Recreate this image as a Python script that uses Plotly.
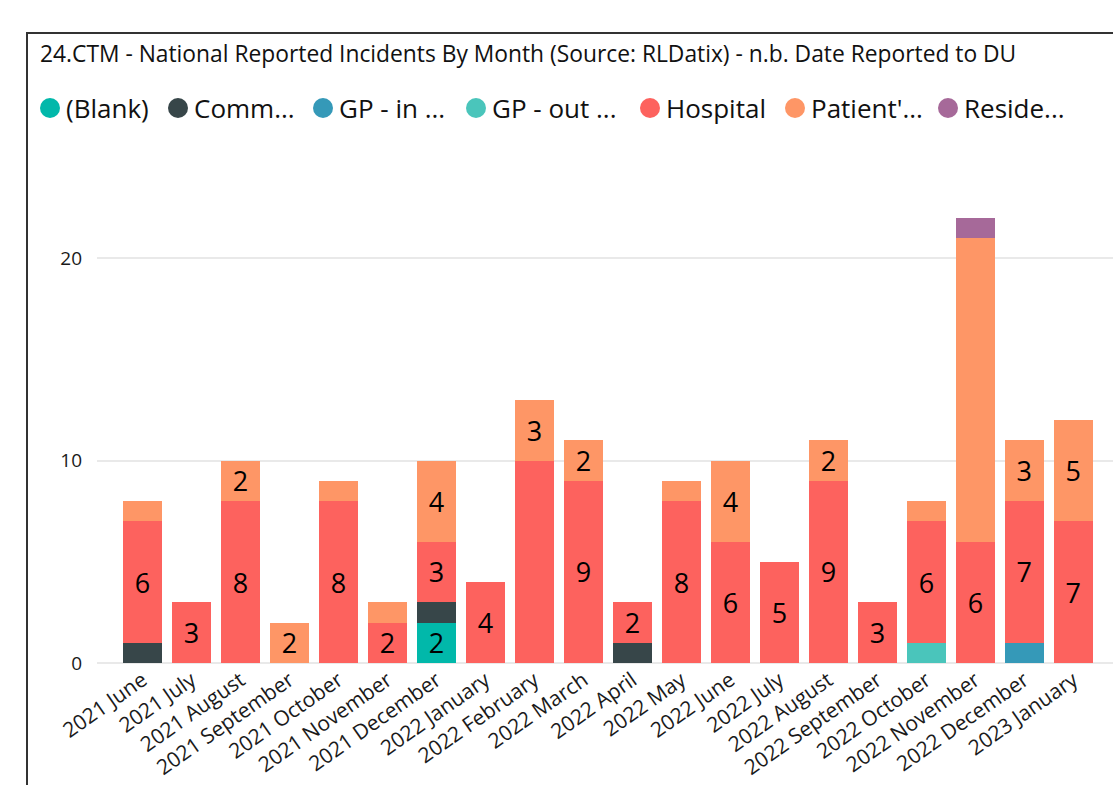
import plotly.graph_objects as go

# months on the x axis
months = [
    "2021 June", "2021 July", "2021 August", "2021 September", "2021 October",
    "2021 November", "2021 December", "2022 January", "2022 February", "2022 March",
    "2022 April", "2022 May", "2022 June", "2022 July", "2022 August",
    "2022 September", "2022 October", "2022 November", "2022 December", "2023 January",
]

# incident counts per location, stacked bottom -> top
blank = [0, 0, 0, 0, 0, 0, 2, 0, 0, 0, 0, 0, 0, 0, 0, 0, 0, 0, 0, 0]
community = [1, 0, 0, 0, 0, 0, 1, 0, 0, 0, 1, 0, 0, 0, 0, 0, 0, 0, 0, 0]
gp_in = [0, 0, 0, 0, 0, 0, 0, 0, 0, 0, 0, 0, 0, 0, 0, 0, 0, 0, 1, 0]
gp_out = [0, 0, 0, 0, 0, 0, 0, 0, 0, 0, 0, 0, 0, 0, 0, 0, 1, 0, 0, 0]
hospital = [6, 3, 8, 0, 8, 2, 3, 4, 10, 9, 2, 8, 6, 5, 9, 3, 6, 6, 7, 7]
patient = [1, 0, 2, 2, 1, 1, 4, 0, 3, 2, 0, 1, 4, 0, 2, 0, 1, 15, 3, 5]
residential = [0, 0, 0, 0, 0, 0, 0, 0, 0, 0, 0, 0, 0, 0, 0, 0, 0, 1, 0, 0]

series_names = ["(Blank)", "Comm...", "GP - in ...", "GP - out ...", "Hospital", "Patient'...", "Reside..."]
series_vals = [blank, community, gp_in, gp_out, hospital, patient, residential]
colors = ["#01B8AA", "#374649", "#3599B8", "#4AC5BB", "#FD625E", "#FE9666", "#A66999"]

# the report leaves these segments without a label
hidden_labels = {("Hospital", "2022 February"), ("Patient'...", "2022 November")}

FONT = "Segoe UI, Open Sans, sans-serif"

# plot area in pixels (figure is 1113 x 785)
L, T, B = 97, 137, 663

fig = go.Figure()
for name, vals, color in zip(series_names, series_vals, colors):
    labels = []
    for m, v in zip(months, vals):
        if v >= 2 and (name, m) not in hidden_labels:
            labels.append(str(v))
        else:
            labels.append("")
    fig.add_trace(go.Bar(
        x=months, y=vals, name=name, marker=dict(color=color, line=dict(width=0)),
        text=labels, textposition="inside", insidetextanchor="middle", textangle=0,
        textfont=dict(size=27, color="black", family=FONT),
        showlegend=False, hoverinfo="x+y+name",
    ))

annotations = [dict(
    text="24.CTM - National Reported Incidents By Month (Source: RLDatix) - n.b. Date Reported to DU",
    xref="paper", yref="paper", x=0, y=1, xshift=38 - L, yshift=T - 53,
    xanchor="left", yanchor="middle", showarrow=False,
    font=dict(size=22.8, color="#111", family=FONT),
)]
shapes = []

# hand-drawn legend with round markers, as in the report
legend_px = [50, 178, 323, 476, 650, 795, 948]
legend_y = 108
for name, color, px in zip(series_names, colors, legend_px):
    shapes.append(dict(
        type="circle", xref="paper", yref="paper",
        xsizemode="pixel", ysizemode="pixel", xanchor=0, yanchor=1,
        x0=px - L - 10, x1=px - L + 10, y0=T - legend_y - 10, y1=T - legend_y + 10,
        fillcolor=color, line=dict(width=0),
    ))
    annotations.append(dict(
        text=name, xref="paper", yref="paper", x=0, y=1,
        xshift=px + 14 - L, yshift=T - legend_y,
        xanchor="left", yanchor="middle", showarrow=False,
        font=dict(size=26, color="#111", family=FONT),
    ))

# visual frame on the top and left edge
shapes.append(dict(
    type="rect", xref="paper", yref="paper",
    xsizemode="pixel", ysizemode="pixel", xanchor=0, yanchor=1,
    x0=27 - L, x1=1200 - L, y0=T - 900, y1=T - 33,
    line=dict(color="#333", width=2), fillcolor="rgba(0,0,0,0)", layer="above",
))

fig.update_layout(
    barmode="stack",
    bargap=0.2,
    width=1113, height=785,
    margin=dict(l=L, r=0, t=T, b=785 - B, autoexpand=False),
    paper_bgcolor="white", plot_bgcolor="white",
    font=dict(family=FONT, color="#222"),
    uniformtext=dict(minsize=27, mode="show"),
    showlegend=False,
    annotations=annotations,
    shapes=shapes,
    xaxis=dict(
        range=[-0.93, 19.81], tickangle=-35, tickfont=dict(size=21, color="#1a1a1a"),
        showgrid=False, showline=False, ticks="", automargin=False,
    ),
    yaxis=dict(
        range=[0, 26], dtick=10, tickfont=dict(size=19, color="#1a1a1a"),
        showgrid=True, gridcolor="#E9E9E9", gridwidth=2,
        zeroline=True, zerolinecolor="#E9E9E9", zerolinewidth=2,
        ticklabelstandoff=14, automargin=False,
    ),
)

# drop the browser's default page margin so the figure sits at the top-left corner
fig.write_html(
    "out.html",
    config={"displayModeBar": False},
    post_script="document.body.style.margin='0px';",
)
